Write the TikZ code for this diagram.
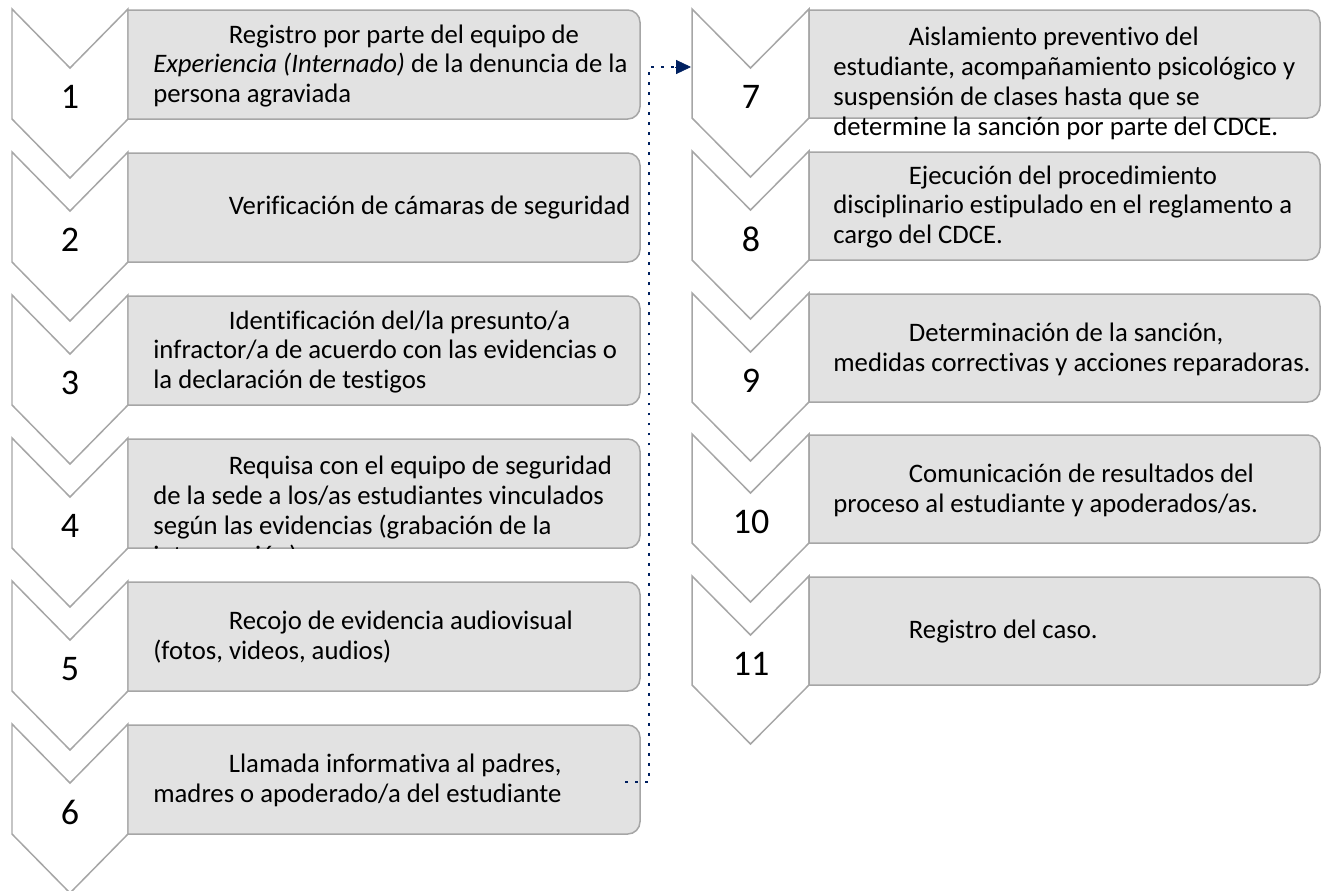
\documentclass[tikz,border=0pt]{standalone}
\usepackage{fontspec}
\setmainfont{Carlito}[Ligatures=NoCommon]
\usetikzlibrary{arrows.meta}
\definecolor{edgegray}{RGB}{166,166,166}
\definecolor{boxgray}{RGB}{226,226,226}
\definecolor{navy}{RGB}{0,32,96}
\newcommand{\firstind}{\hspace*{43pt}}

\begin{document}
\begin{tikzpicture}[x=0.02cm,y=-0.02cm,
  chev/.style={draw=edgegray,fill=white,line width=0.85pt},
  box/.style={draw=edgegray,fill=boxgray,line width=0.85pt},
  num/.style={font=\fontsize{20.5}{24}\selectfont,inner sep=0pt},
  txt/.style={anchor=west,align=left,inner sep=0pt,font=\fontsize{15.2}{17}\selectfont},
  link/.style={navy,line width=1.6pt,dash pattern=on 1.6pt off 4.1pt}]
\useasboundingbox (0,0) rectangle (1324,890);
\draw[chev] (12,9) -- ++(58,59) -- ++(58,-59) -- ++(0,110) -- ++(-58,59) -- ++(-58,-59) -- cycle;
\draw[box] (384,10) [rounded corners=7pt] -| (640,119) -- (384,119) [sharp corners] -| (128,10) -- cycle;
\draw[chev] (12,152) -- ++(58,59) -- ++(58,-59) -- ++(0,110) -- ++(-58,59) -- ++(-58,-59) -- cycle;
\draw[box] (384,153) [rounded corners=7pt] -| (640,262) -- (384,262) [sharp corners] -| (128,153) -- cycle;
\draw[chev] (12,295) -- ++(58,59) -- ++(58,-59) -- ++(0,110) -- ++(-58,59) -- ++(-58,-59) -- cycle;
\draw[box] (384,296) [rounded corners=7pt] -| (640,405) -- (384,405) [sharp corners] -| (128,296) -- cycle;
\draw[chev] (12,438) -- ++(58,59) -- ++(58,-59) -- ++(0,110) -- ++(-58,59) -- ++(-58,-59) -- cycle;
\draw[box] (384,439) [rounded corners=7pt] -| (640,548) -- (384,548) [sharp corners] -| (128,439) -- cycle;
\draw[chev] (12,581) -- ++(58,59) -- ++(58,-59) -- ++(0,110) -- ++(-58,59) -- ++(-58,-59) -- cycle;
\draw[box] (384,582) [rounded corners=7pt] -| (640,691) -- (384,691) [sharp corners] -| (128,582) -- cycle;
\draw[chev] (12,724) -- ++(58,59) -- ++(58,-59) -- ++(0,110) -- ++(-58,59) -- ++(-58,-59) -- cycle;
\draw[box] (384,725) [rounded corners=7pt] -| (640,834) -- (384,834) [sharp corners] -| (128,725) -- cycle;

\draw[chev] (692,9) -- ++(58.5,59) -- ++(58.5,-59) -- ++(0,109) -- ++(-58.5,59) -- ++(-58.5,-59) -- cycle;
\draw[box] (1064,10) [rounded corners=7pt] -| (1320,118) -- (1064,118) [sharp corners] -| (809,10) -- cycle;
\draw[chev] (692,151) -- ++(58.5,59) -- ++(58.5,-59) -- ++(0,109) -- ++(-58.5,59) -- ++(-58.5,-59) -- cycle;
\draw[box] (1064,152) [rounded corners=7pt] -| (1320,260) -- (1064,260) [sharp corners] -| (809,152) -- cycle;
\draw[chev] (692,293) -- ++(58.5,59) -- ++(58.5,-59) -- ++(0,109) -- ++(-58.5,59) -- ++(-58.5,-59) -- cycle;
\draw[box] (1064,294) [rounded corners=7pt] -| (1320,402) -- (1064,402) [sharp corners] -| (809,294) -- cycle;
\draw[chev] (692,434) -- ++(58.5,59) -- ++(58.5,-59) -- ++(0,109) -- ++(-58.5,59) -- ++(-58.5,-59) -- cycle;
\draw[box] (1064,435) [rounded corners=7pt] -| (1320,543) -- (1064,543) [sharp corners] -| (809,435) -- cycle;
\draw[chev] (692,576) -- ++(58.5,59) -- ++(58.5,-59) -- ++(0,109) -- ++(-58.5,59) -- ++(-58.5,-59) -- cycle;
\draw[box] (1064,577) [rounded corners=7pt] -| (1320,685) -- (1064,685) [sharp corners] -| (809,577) -- cycle;

\node[num] (n1) at (70,97) {1};
\node[num] (n2) at (70,240) {2};
\node[num] (n3) at (70,383) {3};
\node[num] (n4) at (70,526) {4};
\node[num] (n5) at (70,669) {5};
\node[num] (n6) at (70,812) {6};
\node[num] (n7) at (751,97) {7};
\node[num] (n8) at (751,239) {8};
\node[num] (n9) at (751,381) {9};
\node[num] (n10) at (751,522) {10};
\node[num] (n11) at (751,664) {11};

\node[txt] (t1) at (153,66) {\firstind Registro por parte del equipo de\\\textit{Experiencia (Internado)} de la denuncia de la\\persona agraviada};
\node[txt] (t2) at (153,208) {\firstind Verificación de cámaras de seguridad};
\node[txt] (t3) at (153,352) {\firstind Identificación del/la presunto/a\\infractor/a de acuerdo con las evidencias o\\la declaración de testigos};
\begin{scope}
\clip (128,439) rectangle (640,548);
\node[txt,anchor=north west] (t4) at (153,456) {\firstind Requisa con el equipo de seguridad\\de la sede a los/as estudiantes vinculados\\según las evidencias (grabación de la\\intervención)};
\end{scope}
\node[txt] (t5) at (153,637) {\firstind Recojo de evidencia audiovisual\\(fotos, videos, audios)};
\node[txt] (t6) at (153,780) {\firstind Llamada informativa al padres,\\madres o apoderado/a del estudiante};
\node[txt,anchor=north west] (t7) at (833,27) {\firstind Aislamiento preventivo del\\estudiante, acompañamiento psicológico y\\suspensión de clases hasta que se\\determine la sanción por parte del CDCE.};
\node[txt] (t8) at (833,207) {\firstind Ejecución del procedimiento\\disciplinario estipulado en el reglamento a\\cargo del CDCE.};
\node[txt] (t9) at (833,349) {\firstind Determinación de la sanción,\\medidas correctivas y acciones reparadoras.};
\node[txt] (t10) at (833,490) {\firstind Comunicación de resultados del\\proceso al estudiante y apoderados/as.};
\node[txt] (t11) at (833,632) {\firstind Registro del caso.};

\coordinate (k6) at (625,782);
\coordinate (j) at (649,67);
\coordinate (k7) at (691,67);
\draw[link] (k6) -| (j) -- (k7);
\draw[navy,-{Triangle[length=8.5pt,width=8pt]}] (k7) ++(-16,0) -- (k7);
\end{tikzpicture}
\end{document}
